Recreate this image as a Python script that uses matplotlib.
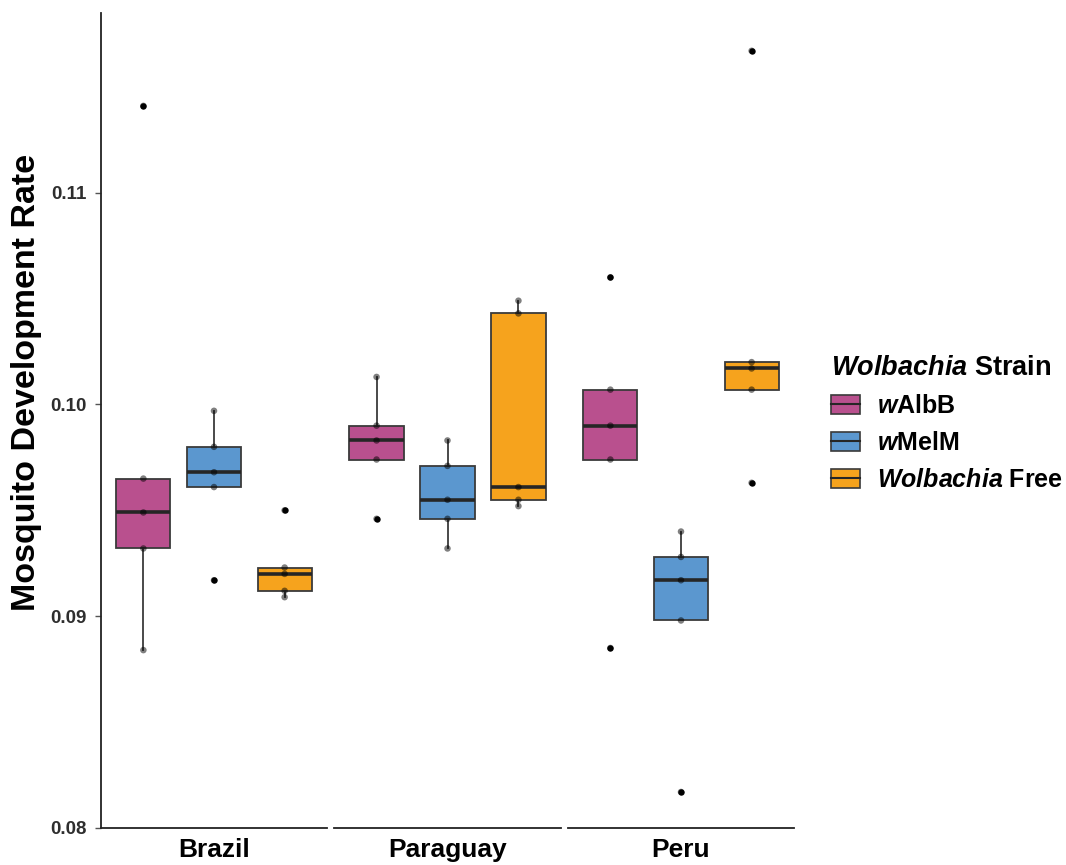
import matplotlib
matplotlib.use("Agg")
import matplotlib.pyplot as plt
from matplotlib.patches import Patch
from matplotlib.lines import Line2D
from matplotlib.legend_handler import HandlerTuple

plt.rcParams["font.family"] = ["Liberation Sans", "DejaVu Sans"]
plt.rcParams["mathtext.fontset"] = "custom"
plt.rcParams["mathtext.it"] = "Liberation Sans:italic"
plt.rcParams["mathtext.bf"] = "Liberation Sans:bold"
plt.rcParams["mathtext.bfit"] = "Liberation Sans:italic:bold"

# Development rate per replicate, grouped by country and Wolbachia strain
countries = ["Brazil", "Paraguay", "Peru"]
strain_labels = [r"$\mathbfit{w}$AlbB", r"$\mathbfit{w}$MelM", r"$\mathbfit{Wolbachia}$ Free"]
strain_colors = ["#B9508E", "#5B97CF", "#F6A31D"]

brazil_walbb = [0.1141, 0.0965, 0.0949, 0.0932, 0.0884]
brazil_wmelm = [0.0997, 0.0980, 0.0968, 0.0961, 0.0917]
brazil_free = [0.0950, 0.0923, 0.0920, 0.0912, 0.0909]

paraguay_walbb = [0.1013, 0.0990, 0.0983, 0.0974, 0.0946]
paraguay_wmelm = [0.0983, 0.0971, 0.0955, 0.0946, 0.0932]
paraguay_free = [0.1049, 0.1043, 0.0961, 0.0955, 0.0952]

peru_walbb = [0.1060, 0.1007, 0.0990, 0.0974, 0.0885]
peru_wmelm = [0.0940, 0.0928, 0.0917, 0.0898, 0.0817]
peru_free = [0.1167, 0.1020, 0.1017, 0.1007, 0.0963]

panel_data = [
    [brazil_walbb, brazil_wmelm, brazil_free],
    [paraguay_walbb, paraguay_wmelm, paraguay_free],
    [peru_walbb, peru_wmelm, peru_free],
]

y_ticks = [0.08, 0.09, 0.10, 0.11]
y_limits = (0.08, 0.1185)

W, H = 1066, 865
fig = plt.figure(figsize=(W / 100, H / 100), dpi=100)

panel_px = [(101, 226), (334, 227), (568, 226)]
bottom_px, top_px = 828, 12.7
positions = [-1, 0, 1]
edge = "#3a3a3a"

axes = []
for i, (country, groups) in enumerate(zip(countries, panel_data)):
    left, width = panel_px[i]
    ax = fig.add_axes([left / W, (H - bottom_px) / H, width / W, (bottom_px - top_px) / H])
    axes.append(ax)
    bp = ax.boxplot(
        groups, positions=positions, widths=0.765, patch_artist=True,
        whis=1.5, showcaps=False,
        boxprops=dict(edgecolor=edge, linewidth=1.3),
        whiskerprops=dict(color=edge, linewidth=1.3),
        medianprops=dict(color="#262626", linewidth=2.6),
        flierprops=dict(marker="o", markerfacecolor="black", markeredgecolor="none",
                        markersize=4.6),
    )
    for patch, color in zip(bp["boxes"], strain_colors):
        patch.set_facecolor(color)
    for pos, vals in zip(positions, groups):
        ax.scatter([pos] * len(vals), vals, s=22, color="black", alpha=0.5,
                   edgecolors="none", zorder=4)

    ax.set_xlim(-1.6, 1.6)
    ax.set_ylim(*y_limits)
    ax.set_xticks([0])
    ax.set_xticklabels([country], fontsize=19, fontweight="bold", color="black")
    ax.tick_params(axis="x", length=0, pad=7)
    for side in ["top", "right", "left"]:
        ax.spines[side].set_visible(False)
    ax.spines["bottom"].set_linewidth(1.3)
    ax.spines["bottom"].set_color("#222222")
    if i == 0:
        ax.spines["left"].set_visible(True)
        ax.spines["left"].set_linewidth(1.3)
        ax.spines["left"].set_color("#222222")
        ax.set_yticks(y_ticks)
        ax.set_yticklabels([f"{t:.2f}" for t in y_ticks], fontsize=13.5,
                           fontweight="bold", color="#2e2e2e")
        ax.tick_params(axis="y", length=4, width=1, color="#555555", pad=6)
    else:
        ax.set_yticks([])

fig.text(27 / W, 1 - 382 / H, "Mosquito Development Rate", rotation=90,
         ha="center", va="center", fontsize=24.5, fontweight="bold")

handles = [
    (Patch(facecolor=c, edgecolor=edge, linewidth=1.2),
     Line2D([], [], color="#262626", linewidth=1.5))
    for c in strain_colors
]
leg = fig.legend(
    handles, strain_labels, handler_map={tuple: HandlerTuple(ndivide=1, pad=0)},
    loc="upper left", bbox_to_anchor=(831 / W, 1 - 355 / H),
    frameon=False, title=r"$\mathbfit{Wolbachia}$ Strain",
    prop=dict(size=18, weight="bold"),
    title_fontproperties=dict(size=19.5, weight="bold"),
    handlelength=1.15, handleheight=0.82, handletextpad=0.68, labelspacing=0.52,
    alignment="left", borderaxespad=0, borderpad=0,
)

fig.savefig("out.png", dpi=100, facecolor="white")
